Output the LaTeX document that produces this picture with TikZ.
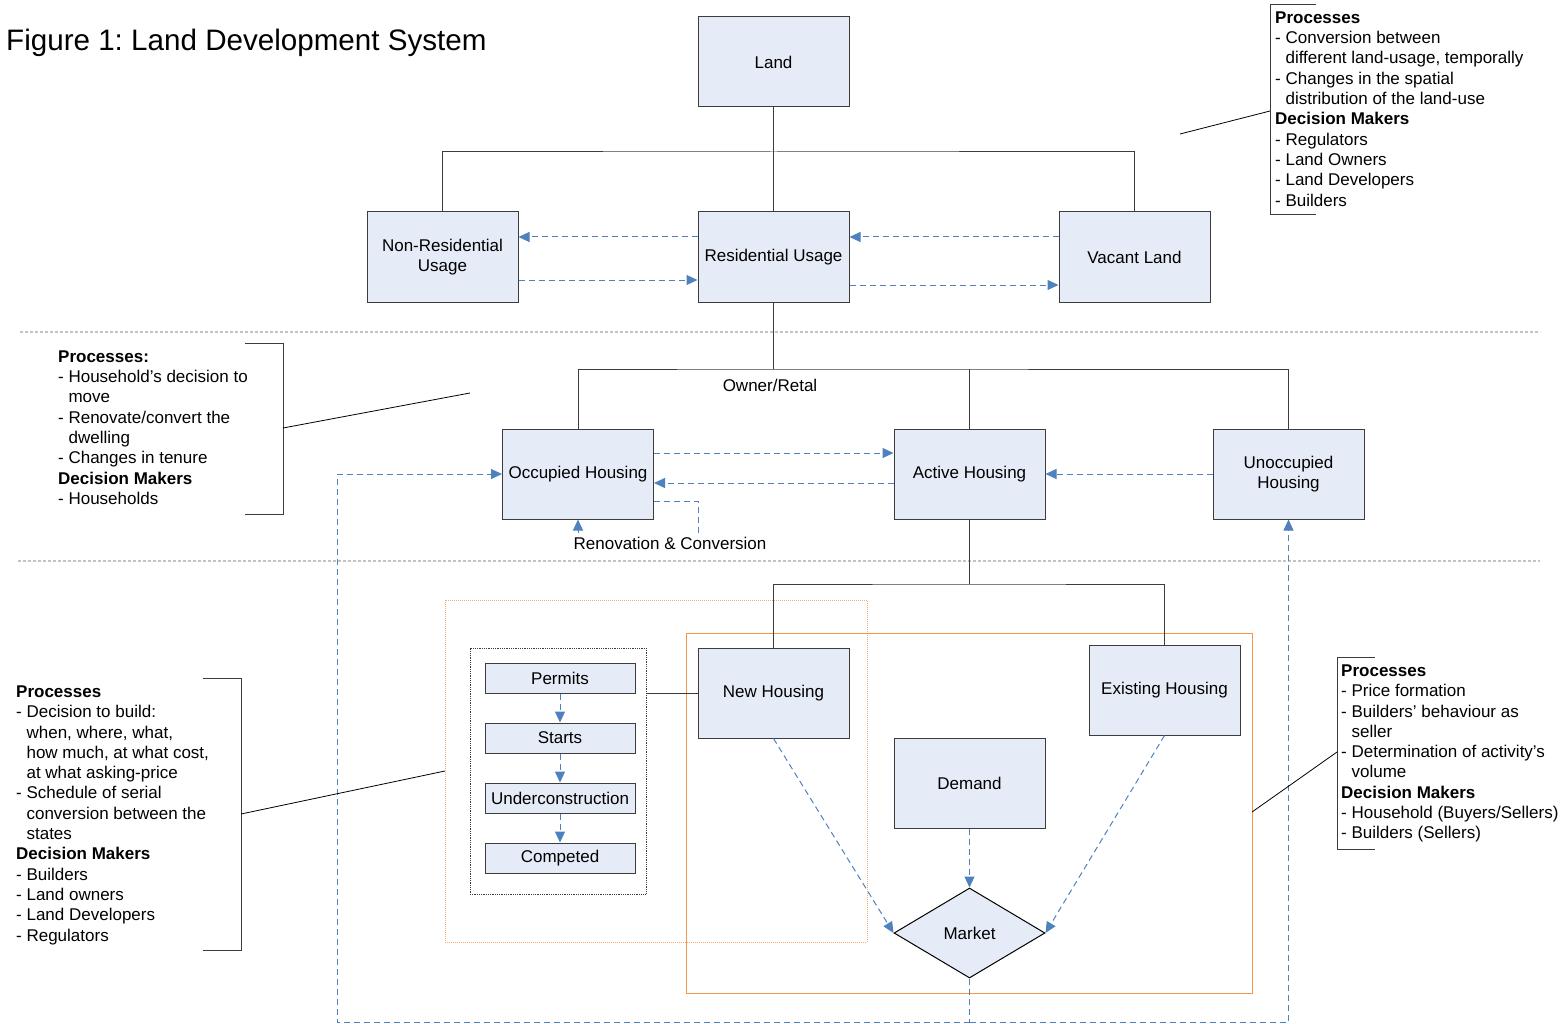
\documentclass[tikz,border=0pt]{standalone}
\usepackage{fontspec}
\setmainfont{Liberation Sans}
\usetikzlibrary{arrows.meta}
\usetikzlibrary{calc}
\usetikzlibrary{shapes.geometric}
\definecolor{boxfill}{RGB}{230,236,247}
\definecolor{boxline}{RGB}{60,60,60}
\definecolor{flowblue}{RGB}{79,129,189}
\definecolor{areaorange}{RGB}{247,150,70}
\definecolor{sepgray}{RGB}{195,195,195}
\frenchspacing

\begin{document}
\begin{tikzpicture}[x=1pt,y=-1pt,
        every node/.style={font=\fontsize{17}{20.3}\selectfont},
        statebox/.style={draw=boxline,fill=boxfill,line width=1pt,minimum width=\figlandboxw,minimum height=\figlandboxh,inner sep=0pt,align=center},
        stagebox/.style={draw=boxline,fill=boxfill,line width=1pt,minimum width=\figlandstagew,minimum height=\figlandstageh,inner sep=0pt},
        flowline/.style={draw=flowblue,line width=1pt,dash pattern=on 6pt off 4pt},
        flow/.style={flowline,-{Triangle[length=11pt,width=10pt]}},
        tree/.style={draw=boxline,line width=1pt},
        notes/.style={anchor=north west,align=left,inner sep=0pt}]
        \newcommand{\figlandboxw}{151pt}
        \newcommand{\figlandboxh}{90pt}
        \newcommand{\figlandstagew}{150pt}
        \newcommand{\figlandstageh}{30pt}
        \useasboundingbox (0,0) rectangle (1565,1024);
        \draw[sepgray,line width=2pt,dash pattern=on 3pt off 2pt] (20,332) -- (1540,332);
        \draw[sepgray,line width=2pt,dash pattern=on 3pt off 2pt] (18,561) -- (1540,561);
        \draw[areaorange!80,line width=1pt,densely dotted] (445,600) rectangle (867,942);
        \draw[areaorange,line width=1pt] (686,633) rectangle (1252,993);
        \node[font=\fontsize{29.6}{35}\selectfont,anchor=base west,inner sep=0pt] (figtitle) at (6,51) {Figure 1: Land Development System};
        \node[statebox] (landbox) at (773.5,62) {Land};
        \node[statebox] (nonresbox) at (442.5,257) {Non-Residential\\Usage};
        \node[statebox] (resbox) at (773.5,257) {Residential Usage};
        \node[statebox] (vacantbox) at (1134.5,257) {Vacant Land};
        \node[statebox] (occbox) at (578,474) {Occupied Housing};
        \node[statebox] (activebox) at (969.5,474) {Active Housing};
        \node[statebox] (unoccbox) at (1288.5,474) {Unoccupied\\Housing};
        \node[statebox] (newbox) at (773.5,693) {New Housing};
        \node[statebox] (existbox) at (1164.5,690) {Existing Housing};
        \node[statebox] (demandbox) at (969.5,783) {Demand};
        \node[diamond,draw=black,fill=boxfill,line width=1pt,minimum width=151pt,minimum height=90pt,inner sep=0pt] (marketbox) at (969.5,933) {Market};
        \node[draw=boxline,line width=.8pt,densely dotted,minimum width=176pt,minimum height=246pt,inner sep=0pt] (stageframe) at (558,771) {};
        \node[stagebox] (permitsbox) at (560,678) {Permits};
        \node[stagebox] (startsbox) at (560,738) {Starts};
        \node[stagebox] (underbox) at (560,798) {Underconstruction};
        \node[stagebox] (compbox) at (560,858) {Competed};
        \node (ownerlabel) at (770,385) {Owner/Retal};
        \node (renlabel) at (670,543) {Renovation \& Conversion};
        \coordinate (landsplit) at (773.5,152);
        \coordinate (ressplit) at (773.5,369);
        \coordinate (activesplit) at (969.5,584);
        \draw[tree] (landbox.south) -- (landsplit);
        \draw[tree] (nonresbox.north) |- (landsplit) -| (vacantbox.north);
        \draw[tree] (landsplit) -- (resbox.north);
        \draw[tree] (resbox.south) -- (ressplit);
        \draw[tree] (occbox.north) |- (ressplit) -| (unoccbox.north);
        \draw[tree] (activebox.north) -- (activebox.north |- ressplit);
        \draw[tree] (activebox.south) -- (activesplit);
        \draw[tree] (newbox.north) |- (activesplit) -| (existbox.north);
        \draw[tree] (stageframe.east |- newbox.west) -- (newbox.west);
        \draw[flow] ([yshift=20pt]resbox.west) -- ([yshift=20pt]nonresbox.east);
        \draw[flow] ([yshift=-23pt]nonresbox.east) -- ([yshift=-23pt]resbox.west);
        \draw[flow] ([yshift=20pt]vacantbox.west) -- ([yshift=20pt]resbox.east);
        \draw[flow] ([yshift=-28pt]resbox.east) -- ([yshift=-28pt]vacantbox.west);
        \draw[flow] ([yshift=21pt]occbox.east) -- ([yshift=21pt]activebox.west);
        \draw[flow] ([yshift=-9pt]activebox.west) -- ([yshift=-9pt]occbox.east);
        \draw[flow] (unoccbox.west) -- (activebox.east);
        \coordinate (renturn) at (698,533);
        \coordinate (renstart) at (578,533);
        \draw[flowline] ([yshift=-27pt]occbox.east) -| (renturn);
        \draw[flow] (renstart) -- (occbox.south);
        \draw[flow] (permitsbox) -- (startsbox);
        \draw[flow] (startsbox) -- (underbox);
        \draw[flow] (underbox) -- (compbox);
        \draw[flow] (demandbox.south) -- (marketbox.north);
        \draw[flow] (newbox.south) -- (marketbox.west);
        \draw[flow] (existbox.south) -- (marketbox.east);
        \coordinate (loopbottom) at (969.5,1022);
        \coordinate (loopleft) at (337,1022);
        \coordinate (loopright) at (1288.5,1022);
        \draw[flowline] (marketbox.south) -- (loopbottom);
        \draw[flow] (loopbottom) -- (loopleft) |- (occbox.west);
        \draw[flow] (loopbottom) -- (loopright) -- (unoccbox.south);
        \node[notes] (landnotes) at (1275,11.5) {\textbf{Processes}\\- Conversion between\\\phantom{- }different land-usage, temporally\\- Changes in the spatial\\\phantom{- }distribution of the land-use\\\textbf{Decision Makers}\\- Regulators\\- Land Owners\\- Land Developers\\- Builders};
        \node[notes] (housenotes) at (58,350.5) {\textbf{Processes:}\\- Household’s decision to\\\phantom{- }move\\- Renovate/convert the\\\phantom{- }dwelling\\- Changes in tenure\\\textbf{Decision Makers}\\- Households};
        \node[notes] (buildnotes) at (16,685.5) {\textbf{Processes}\\- Decision to build:\\\phantom{- }when, where, what,\\\phantom{- }how much, at what cost,\\\phantom{- }at what asking-price\\- Schedule of serial\\\phantom{- }conversion between the\\\phantom{- }states\\\textbf{Decision Makers}\\- Builders\\- Land owners\\- Land Developers\\- Regulators};
        \node[notes] (marketnotes) at (1341,664.5) {\textbf{Processes}\\- Price formation\\- Builders’ behaviour as\\\phantom{- }seller\\- Determination of activity’s\\\phantom{- }volume\\\textbf{Decision Makers}\\- Household (Buyers/Sellers)\\- Builders (Sellers)};
        \draw[tree] (1316,5) -- (1270,5) -- (1270,215) -- (1316,215);
        \draw[tree] (245,343) -- (283,343) -- (283,514) -- (245,514);
        \draw[tree] (203,678) -- (241,678) -- (241,950) -- (203,950);
        \draw[tree] (1375,657) -- (1337,657) -- (1337,849) -- (1375,849);
        \coordinate (landleadA) at (1180,134);
        \coordinate (landleadB) at (1270,111);
        \coordinate (houseleadA) at (283,428);
        \coordinate (houseleadB) at (470,393);
        \coordinate (buildleadA) at (241,814);
        \coordinate (buildleadB) at (445,771);
        \coordinate (marketleadA) at (1252,812);
        \coordinate (marketleadB) at (1337,752);
        \draw[black,line width=.8pt] (landleadA) -- (landleadB);
        \draw[black,line width=.8pt] (houseleadA) -- (houseleadB);
        \draw[black,line width=.8pt] (buildleadA) -- (buildleadB);
        \draw[black,line width=.8pt] (marketleadA) -- (marketleadB);
    \end{tikzpicture}
\end{document}
